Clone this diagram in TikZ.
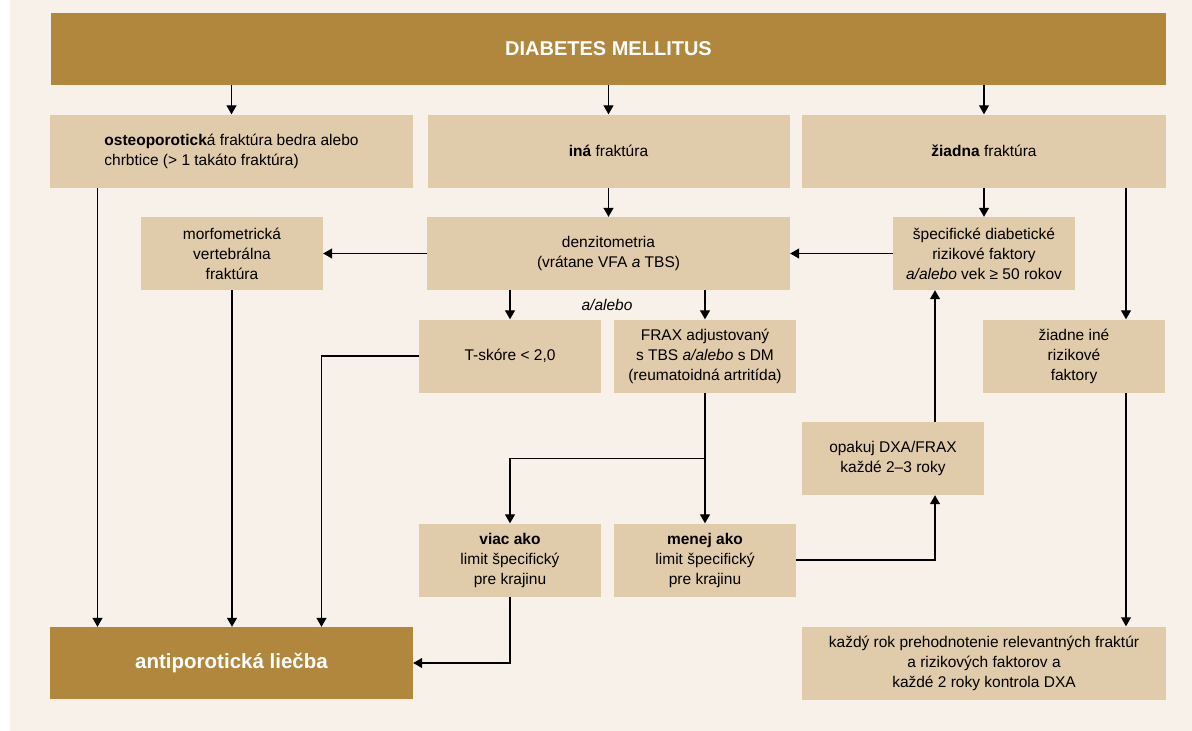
\documentclass[tikz,border=0pt]{standalone}
\usepackage{fontspec}
\setmainfont{Liberation Sans}
\usepackage{tikz}
\usetikzlibrary{arrows.meta}
\definecolor{brown1}{RGB}{177,135,61}
\definecolor{tan1}{RGB}{224,203,170}
\definecolor{panel1}{RGB}{248,241,234}
\tikzset{
  box/.style={fill=tan1, minimum width=182pt, minimum height=73pt, inner sep=0pt, align=center, font=\fontsize{15.5}{20}\selectfont},
  widebox/.style={box, minimum width=363pt},
  headbox/.style={fill=brown1, minimum height=72pt, inner sep=0pt, text=white, font=\fontsize{20}{22}\selectfont\bfseries},
  arr/.style={-{Triangle[length=9pt,width=10pt]}, line width=1.2pt},
  line/.style={line width=1.2pt}
}
\begin{document}
\begin{tikzpicture}[x=1pt,y=-1pt]
\useasboundingbox (0,0) rectangle (1192,731);
\fill[white] (0,0) rectangle (1192,731);
\fill[panel1] (10,0) rectangle (1192,731);

\node[headbox, minimum width=1115pt] (dm) at (608.5,49) {DIABETES MELLITUS};
\node[widebox] (osteo) at (231.5,151) {\begin{tabular}{@{}l@{}}\textbf{osteoporotick}á fraktúra bedra alebo\\chrbtice (> 1 takáto fraktúra)\end{tabular}};
\node[widebox, minimum width=362pt] (ina) at (608.5,151) {\textbf{iná} fraktúra};
\node[widebox, minimum width=364pt] (ziadna) at (984,151) {\textbf{žiadna} fraktúra};

\node[box] (morfo) at (232,253.5) {morfometrická\\vertebrálna\\fraktúra};
\node[widebox] (denz) at (608.5,253.5) {denzitometria\\(vrátane VFA \textit{a} TBS)};
\node[box] (spec) at (984,253.5) {špecifické diabetické\\rizikové faktory\\\textit{a/alebo} vek ≥ 50 rokov};

\node[font=\fontsize{15.5}{18}\selectfont\itshape] (alebo) at (607,305) {a/alebo};

\node[box] (tskore) at (510,356) {T-skóre < 2,0};
\node[box] (frax) at (705,356) {FRAX adjustovaný\\s TBS \textit{a/alebo} s DM\\(reumatoidná artritída)};
\node[box] (ziadneine) at (1074,356) {žiadne iné\\rizikové\\faktory};

\node[box] (opakuj) at (893,458.5) {opakuj DXA/FRAX\\každé 2–3 roky};

\node[box] (viac) at (510,560) {\textbf{viac ako}\\limit špecifický\\pre krajinu};
\node[box] (menej) at (705,560) {\textbf{menej ako}\\limit špecifický\\pre krajinu};

\node[headbox, minimum width=363pt, font=\fontsize{20.5}{22}\selectfont\bfseries] (anti) at (231.5,663) {antiporotická liečba};
\node[widebox, minimum width=364pt] (kazdy) at (984,663) {každý rok prehodnotenie relevantných fraktúr\\a rizikových faktorov a\\každé 2 roky kontrola DXA};

% arrows from the top
\draw[arr] (osteo.north |- dm.south) -- (osteo.north);
\draw[arr] (ina.north |- dm.south) -- (ina.north);
\draw[arr] (ziadna.north |- dm.south) -- (ziadna.north);

\draw[arr] (ina.south) -- (denz.north);
\draw[arr] (ziadna.south) -- (spec.north);
\draw[arr] ([xshift=52pt]ziadneine.north |- ziadna.south) -- ([xshift=52pt]ziadneine.north);
\draw[arr] (spec.west) -- (denz.east);
\draw[arr] (denz.west) -- (morfo.east);
\draw[arr] (tskore.north |- denz.south) -- (tskore.north);
\draw[arr] (frax.north |- denz.south) -- (frax.north);

% down to the treatment
\draw[arr] ([xshift=-134pt]osteo.south) -- ([xshift=-134pt]osteo.south |- anti.north);
\draw[arr] (morfo.south) -- (morfo.south |- anti.north);
\draw[arr] (tskore.west) -| ([xshift=90pt]anti.north);
\draw[arr] (viac.south) |- (anti.east);

\draw[arr] (frax.south) -- (menej.north);
\draw[arr] (frax.south |- opakuj.west) -| (viac.north);
\draw[arr] (menej.east) -| ([xshift=42pt]opakuj.south);
\draw[arr] ([xshift=42pt]opakuj.north) -- ([xshift=42pt]opakuj.north |- spec.south);
\draw[arr] ([xshift=52pt]ziadneine.south) -- ([xshift=52pt]ziadneine.south |- kazdy.north);
\end{tikzpicture}
\end{document}
